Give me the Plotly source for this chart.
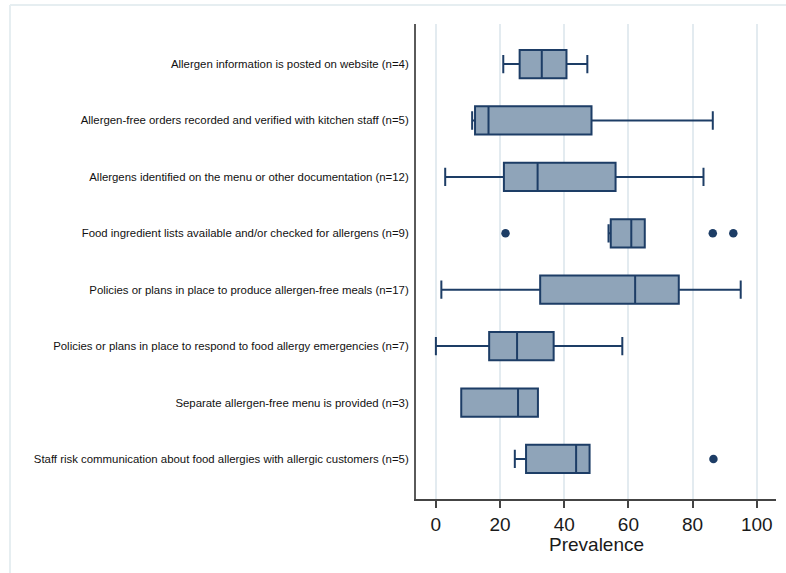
import plotly.graph_objects as go

# Practices (top to bottom) and their prevalence summaries (%)
categories = [
    "Allergen information is posted on website (n=4)",
    "Allergen-free orders recorded and verified with kitchen staff (n=5)",
    "Allergens identified on the menu or other documentation (n=12)",
    "Food ingredient lists available and/or checked for allergens (n=9)",
    "Policies or plans in place to produce allergen-free meals (n=17)",
    "Policies or plans in place to respond to food allergy emergencies (n=7)",
    "Separate allergen-free menu is provided (n=3)",
    "Staff risk communication about food allergies with allergic customers (n=5)",
]
lower_whisker = [21.0, 11.3, 2.9, 53.8, 1.7, 0.0, 7.9, 24.6]
q1_values = [26.1, 12.2, 21.2, 54.5, 32.5, 16.6, 7.9, 28.1]
median_values = [33.0, 16.4, 31.7, 60.9, 62.1, 25.3, 25.6, 43.7]
q3_values = [40.7, 48.5, 56.0, 65.1, 75.7, 36.7, 31.8, 47.9]
upper_whisker = [47.2, 86.3, 83.4, 65.1, 95.0, 58.1, 31.8, 47.9]

# Outlying observations
outlier_category = [categories[3], categories[3], categories[3], categories[7]]
outlier_values = [21.7, 86.3, 92.7, 86.5]

x_ticks = [0, 20, 40, 60, 80, 100]

NAVY = "#1d3d66"
FILL = "#8fa4b9"
GRID = "#e3ebf0"

fig = go.Figure()
fig.add_trace(go.Box(
    orientation="h",
    y=categories,
    lowerfence=lower_whisker,
    q1=q1_values,
    median=median_values,
    q3=q3_values,
    upperfence=upper_whisker,
    width=0.5,
    whiskerwidth=0.65,
    fillcolor=FILL,
    line=dict(color=NAVY, width=2),
    boxpoints=False,
    showlegend=False,
    hoverinfo="skip",
))
fig.add_trace(go.Scatter(
    x=outlier_values,
    y=outlier_category,
    mode="markers",
    marker=dict(color=NAVY, size=8.5, symbol="circle"),
    showlegend=False,
    hoverinfo="skip",
))

W, H = 786, 573
L, R, T, B = 416, 10, 24, 74
pw, ph = W - L - R, H - T - B

# faint outer frame around the graphic
fx0 = (10 - L) / pw
fy1 = (H - B - 5) / ph
fig.add_shape(type="line", xref="paper", yref="paper", x0=fx0, x1=(W - L) / pw,
              y0=fy1, y1=fy1, line=dict(color="#e6eef1", width=2), layer="below")
fig.add_shape(type="line", xref="paper", yref="paper", x0=fx0, x1=fx0,
              y0=fy1, y1=-B / ph - 0.01, line=dict(color="#e6eef1", width=2), layer="below")

# x-axis title placed just beneath the tick labels
fig.add_annotation(
    text="Prevalence", xref="paper", yref="paper",
    x=0.5, y=-45 / ph, xanchor="center", yanchor="middle",
    showarrow=False, font=dict(size=19, color="#1a1a1a"),
)

fig.update_layout(
    width=W, height=H,
    margin=dict(l=L, r=R, t=T, b=B, pad=0),
    paper_bgcolor="white",
    plot_bgcolor="white",
    font=dict(family="Liberation Sans, Arial, sans-serif", color="#111111"),
    xaxis=dict(
        range=[-6.2, 106.0],
        tickvals=x_ticks,
        ticktext=[str(t) for t in x_ticks],
        tickfont=dict(size=19, color="#1a1a1a"),
        ticks="outside", ticklen=7, tickwidth=1.5, tickcolor="#444444",
        showline=True, linecolor="#444444", linewidth=1.5,
        showgrid=True, gridcolor=GRID, gridwidth=1.5,
        zeroline=False,
    ),
    yaxis=dict(
        type="category",
        categoryorder="array",
        categoryarray=categories,
        range=[7.71, -0.71],
        tickfont=dict(size=11.4, color="#111111"),
        ticks="",
        ticklabelstandoff=3,
        showline=True, linecolor="#5a5a5a", linewidth=2,
        showgrid=False, zeroline=False,
    ),
)

fig.write_html("out.html")
